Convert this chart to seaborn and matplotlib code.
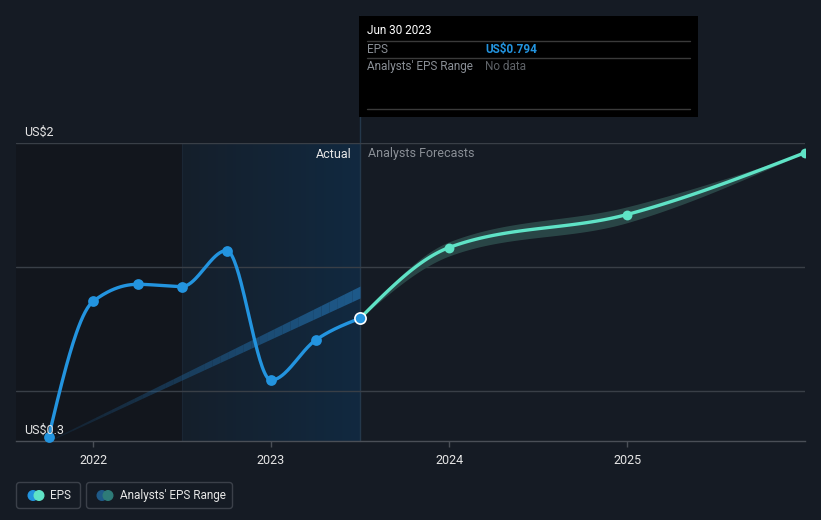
import numpy as np
import pandas as pd
import matplotlib
matplotlib.use("Agg")
import matplotlib.pyplot as plt
from matplotlib.patches import FancyBboxPatch, Rectangle, Circle
import seaborn as sns

# ---------------- data ----------------
actual_x = [2021.75, 2022.0, 2022.25, 2022.5, 2022.75, 2023.0, 2023.25, 2023.5]
actual_eps = [0.316, 0.862, 0.931, 0.922, 1.067, 0.545, 0.706, 0.794]

forecast_x = [2023.5, 2024.0, 2025.0, 2026.0]
forecast_eps = [0.794, 1.079, 1.212, 1.461]
forecast_low = [0.794, 1.045, 1.179, 1.461]
forecast_high = [0.794, 1.102, 1.243, 1.461]

past_range_x = [2021.75, 2023.5]
past_range_low = [0.300, 0.878]
past_range_high = [0.300, 0.922]

year_ticks = [2022, 2023, 2024, 2025]
year_labels = ["2022", "2023", "2024", "2025"]
y_ticks = [0.3, 1.5]
y_labels = ["US$0.3", "US$2"]
grid_vals = [0.5, 1.0, 1.5]

# ---------------- style ----------------
BG = "#151b24"
GRID = "#393f47"
BLUE = "#2394df"
MINT = "#5fe3c6"
FBAND = "#2b4848"
PBAND = "#1f5d8f"
TXT = "#e6e6e6"
GRAY = "#8a8f96"

sns.set_theme(style="dark")
plt.rcParams["font.family"] = ["Roboto", "DejaVu Sans"]


def monotone(x, y, n=40):
    x = np.asarray(x, float)
    y = np.asarray(y, float)
    h = np.diff(x)
    s = np.diff(y) / h
    m = np.zeros_like(y)
    for i in range(1, len(y) - 1):
        p = (s[i - 1] * h[i] + s[i] * h[i - 1]) / (h[i - 1] + h[i])
        sg = (1 if s[i - 1] >= 0 else -1) + (1 if s[i] >= 0 else -1)
        m[i] = sg * min(abs(s[i - 1]), abs(s[i]), 0.5 * abs(p))
    if len(y) > 2:
        m[0] = (3 * s[0] - m[1]) / 2
        m[-1] = (3 * s[-1] - m[-2]) / 2
    else:
        m[0] = m[-1] = s[0]
    xs, ys = [], []
    for i in range(len(h)):
        t = np.linspace(0, 1, n, endpoint=(i == len(h) - 1))
        h00 = 2 * t**3 - 3 * t**2 + 1
        h10 = t**3 - 2 * t**2 + t
        h01 = -2 * t**3 + 3 * t**2
        h11 = t**3 - t**2
        xs.append(x[i] + t * h[i])
        ys.append(h00 * y[i] + h10 * h[i] * m[i] + h01 * y[i + 1] + h11 * h[i] * m[i + 1])
    return np.concatenate(xs), np.concatenate(ys)


W, H = 821, 520
fig = plt.figure(figsize=(W / 100, H / 100), dpi=100, facecolor=BG)
L, R, T, B = 16, 805, 143, 441
ax = fig.add_axes([L / W, (H - B) / H, (R - L) / W, (B - T) / H])
ax.set_facecolor(BG)
xmin, xmax = 2021.567, 2026.0
ymin, ymax = 0.3, 1.5
ax.set_xlim(xmin, xmax)
ax.set_ylim(ymin, ymax)

# background regions
ax.axvspan(xmin, 2022.5, color="#12161d", zorder=0, lw=0)
grad = np.linspace(0, 1, 256)
c0 = np.array([21, 31, 43]) / 255
c1 = np.array([17, 41, 64]) / 255
img = (c0[None, :] * (1 - grad[:, None]) + c1[None, :] * grad[:, None])[None, :, :]
ax.imshow(img, extent=[2022.5, 2023.5, ymin, ymax], aspect="auto", zorder=0.5,
          interpolation="bilinear")
ax.axvline(2022.5, color="#1a2634", lw=0.8, zorder=0.6)
ax.axvline(2023.5, ymin=0, ymax=(B - 16) / (B - T), color="#24384b", lw=1, zorder=0.6, clip_on=False)

# gridlines
for g in grid_vals:
    ax.axhline(g, color=GRID, lw=1, zorder=1)

# past analysts range band (fading)
nseg = 40
px = np.linspace(past_range_x[0], past_range_x[1], nseg + 1)
plo = np.interp(px, past_range_x, past_range_low)
phi = np.interp(px, past_range_x, past_range_high)
for i in range(nseg):
    a = 0.15 + 0.8 * (i / nseg)
    ax.fill_between(px[i:i + 2], plo[i:i + 2] - 0.002, phi[i:i + 2] + 0.002,
                    color=PBAND, alpha=a, lw=0, zorder=2)

# forecast band
fx, flo = monotone(forecast_x, forecast_low)
_, fhi = monotone(forecast_x, forecast_high)
ax.fill_between(fx, flo, fhi, color=FBAND, alpha=0.95, lw=0, zorder=2)

# lines
sx, sy = monotone(actual_x, actual_eps)
sns.lineplot(data=pd.DataFrame({"x": sx, "y": sy}), x="x", y="y", ax=ax,
             color=BLUE, lw=2.4, zorder=4, sort=False)
gx, gy = monotone(forecast_x, forecast_eps)
sns.lineplot(data=pd.DataFrame({"x": gx, "y": gy}), x="x", y="y", ax=ax,
             color=MINT, lw=2.4, zorder=4, sort=False)

# markers
sns.scatterplot(x=actual_x[:-1], y=actual_eps[:-1], ax=ax, color=BLUE, s=60,
                edgecolor=BLUE, linewidth=0, zorder=5, clip_on=False)
sns.scatterplot(x=forecast_x[1:], y=forecast_eps[1:], ax=ax, color=MINT, s=50,
                edgecolor=MINT, linewidth=0, zorder=5)
sns.scatterplot(x=[actual_x[-1]], y=[actual_eps[-1]], ax=ax, color=BLUE, s=65,
                edgecolor="white", linewidth=1.2, zorder=6)

# axes styling
for sp in ["top", "right", "left"]:
    ax.spines[sp].set_visible(False)
ax.spines["bottom"].set_color("#4a4f57")
ax.spines["bottom"].set_linewidth(1)
ax.set_xticks(year_ticks)
ax.set_xticklabels(year_labels, color=TXT, fontsize=9)
ax.tick_params(axis="x", length=4, width=1, color="#4a4f57", pad=5, bottom=True)
ax.set_yticks([])
ax.set_xlabel("")
ax.set_ylabel("")
ax.grid(False)
for v, lab in zip(y_ticks, y_labels):
    ax.annotate(lab, xy=(0, v), xycoords=("axes fraction", "data"),
                xytext=(8, 4), textcoords="offset pixels", color=TXT,
                fontsize=9, ha="left", va="bottom", zorder=7)

ax.annotate("Actual", xy=(2023.5, 1.5), xytext=(-8, -11),
            textcoords="offset pixels", ha="right", va="center", color=TXT, fontsize=9, zorder=7)
ax.annotate("Analysts Forecasts", xy=(2023.5, 1.5), xytext=(8, -11),
            textcoords="offset pixels", ha="left", va="center", color=GRAY, fontsize=9, zorder=7)

# overlay (pixel coords) for tooltip and legend
ov = fig.add_axes([0, 0, 1, 1], facecolor="none")
ov.set_xlim(0, W)
ov.set_ylim(H, 0)
ov.axis("off")

ov.add_patch(Rectangle((359, 16), 339, 101, facecolor="#000000", edgecolor="none", zorder=1))
ov.text(367, 31, "Jun 30 2023", color="white", fontsize=8.5, va="center", ha="left")
for yy in [41, 58, 109]:
    ov.plot([367, 690], [yy, yy], color="#3a3a3a", lw=1)
ov.text(367, 49.5, "EPS", color=GRAY, fontsize=8.5, va="center")
ov.text(485, 49.5, "US$0.794", color=BLUE, fontsize=8.5, va="center", fontweight="bold")
ov.text(367, 66.5, "Analysts' EPS Range", color=GRAY, fontsize=8.5, va="center")
ov.text(485, 66.5, "No data", color="#5f6368", fontsize=8.5, va="center")

# legend
ov.add_patch(FancyBboxPatch((16.5, 482.5), 64, 26, boxstyle="round,pad=0,rounding_size=3",
                            facecolor="none", edgecolor="#3b4049", lw=1))
ov.add_patch(FancyBboxPatch((86.5, 482.5), 146, 26, boxstyle="round,pad=0,rounding_size=3",
                            facecolor="none", edgecolor="#3b4049", lw=1))
ov.add_patch(Circle((33, 495.5), 4.8, color=BLUE, zorder=3))
ov.add_patch(Circle((39, 495.5), 4.8, color=MINT, zorder=4))
ov.text(50, 495.5, "EPS", color=TXT, fontsize=8.5, va="center")
ov.add_patch(Circle((102, 495.5), 4.8, color="#1f5a88", zorder=3))
ov.add_patch(Circle((108, 495.5), 4.8, color="#2e7b78", zorder=4))
ov.text(120, 495.5, "Analysts' EPS Range", color=TXT, fontsize=8.5, va="center")

fig.savefig("out.png", dpi=100, facecolor=BG)
